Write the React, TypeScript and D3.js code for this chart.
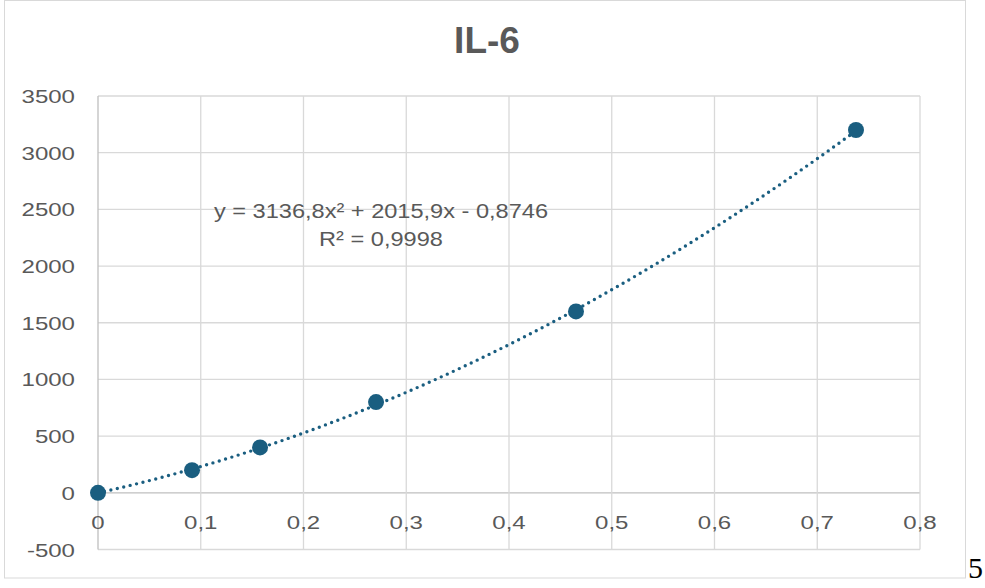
import React from "react";
import * as d3 from "d3";

const concentrations = [0, 0.0915, 0.1577, 0.2706, 0.4652, 0.7377];
const standards = [0, 200, 400, 800, 1600, 3200];
const fitCoefficients = [3136.8, 2015.9, -0.8746];
const xTicks = [0, 0.1, 0.2, 0.3, 0.4, 0.5, 0.6, 0.7, 0.8];
const yTicks = [-500, 0, 500, 1000, 1500, 2000, 2500, 3000, 3500];

const W = 985;
const H = 588;
const color = "#1a5e80";
const textColor = "#595959";
const fmt = (v: number) => String(v).replace(".", ",");

// the reference text is a bit wider than Liberation Sans, so stretch it
function Label(props: { x: number; y: number; size: number; sx?: number; anchor?: string; bold?: boolean; children: React.ReactNode }) {
  const { x, y, size, sx = 1.3, anchor = "middle", bold, children } = props;
  return (
    <g transform={`translate(${x},${y}) scale(${sx},1)`}>
      <text
        textAnchor={anchor}
        fontSize={size}
        fontWeight={bold ? "bold" : "normal"}
        fill={textColor}
        fontFamily="Liberation Sans, Arial, sans-serif"
      >
        {children}
      </text>
    </g>
  );
}

export default function App() {
  const x = d3.scaleLinear().domain([0, 0.8]).range([98, 920]);
  const y = d3.scaleLinear().domain([-500, 3500]).range([549.5, 96]);

  const [a, b, c] = fitCoefficients;
  const maxX = d3.max(concentrations) as number;
  const fitX = d3.range(0, maxX, maxX / 200).concat([maxX]);
  const line = d3
    .line<number>()
    .x((d) => x(d))
    .y((d) => y(a * d * d + b * d + c));

  return (
    <svg width={W} height={H} style={{ position: "absolute", left: 0, top: 0, background: "#fff" }}>
      <rect x={4.5} y={0.5} width={961} height={577.5} fill="#fff" stroke="#d9d9d9" />
      <Label x={487} y={53} size={37} sx={1} bold>
        IL-6
      </Label>

      {/* grid */}
      {yTicks.map((t) => (
        <line key={"gy" + t} x1={x(0)} x2={x(0.8)} y1={y(t)} y2={y(t)} stroke={t === 0 ? "#bfbfbf" : "#d9d9d9"} strokeWidth={1.3} />
      ))}
      {xTicks.map((t) => (
        <line key={"gx" + t} x1={x(t)} x2={x(t)} y1={y(-500)} y2={y(3500)} stroke={t === 0 ? "#bfbfbf" : "#d9d9d9"} strokeWidth={1.3} />
      ))}

      {/* tick labels */}
      {yTicks.map((t) => (
        <Label key={"ly" + t} x={75} y={y(t) + 7} size={18.5} anchor="end">
          {t}
        </Label>
      ))}
      {xTicks.map((t) => (
        <Label key={"lx" + t} x={x(t)} y={y(0) + 36} size={18.5}>
          {fmt(t)}
        </Label>
      ))}

      {/* trendline */}
      <path
        d={line(fitX) || ""}
        fill="none"
        stroke={color}
        strokeWidth={3.4}
        strokeDasharray="0 6.6"
        strokeLinecap="round"
      />

      {concentrations.map((d, i) => (
        <circle key={i} cx={x(d)} cy={y(standards[i])} r={8} fill={color} />
      ))}

      <Label x={381} y={218} size={20.5} sx={1.15}>
        {`y = ${fmt(a)}x² + ${fmt(b)}x - ${fmt(-c)}`}
      </Label>
      <Label x={381} y={246} size={20.5} sx={1.15}>
        R² = 0,9998
      </Label>

      <text x={968} y={578} fontSize={30} fill="#000" fontFamily="Liberation Serif">
        5
      </text>
    </svg>
  );
}
